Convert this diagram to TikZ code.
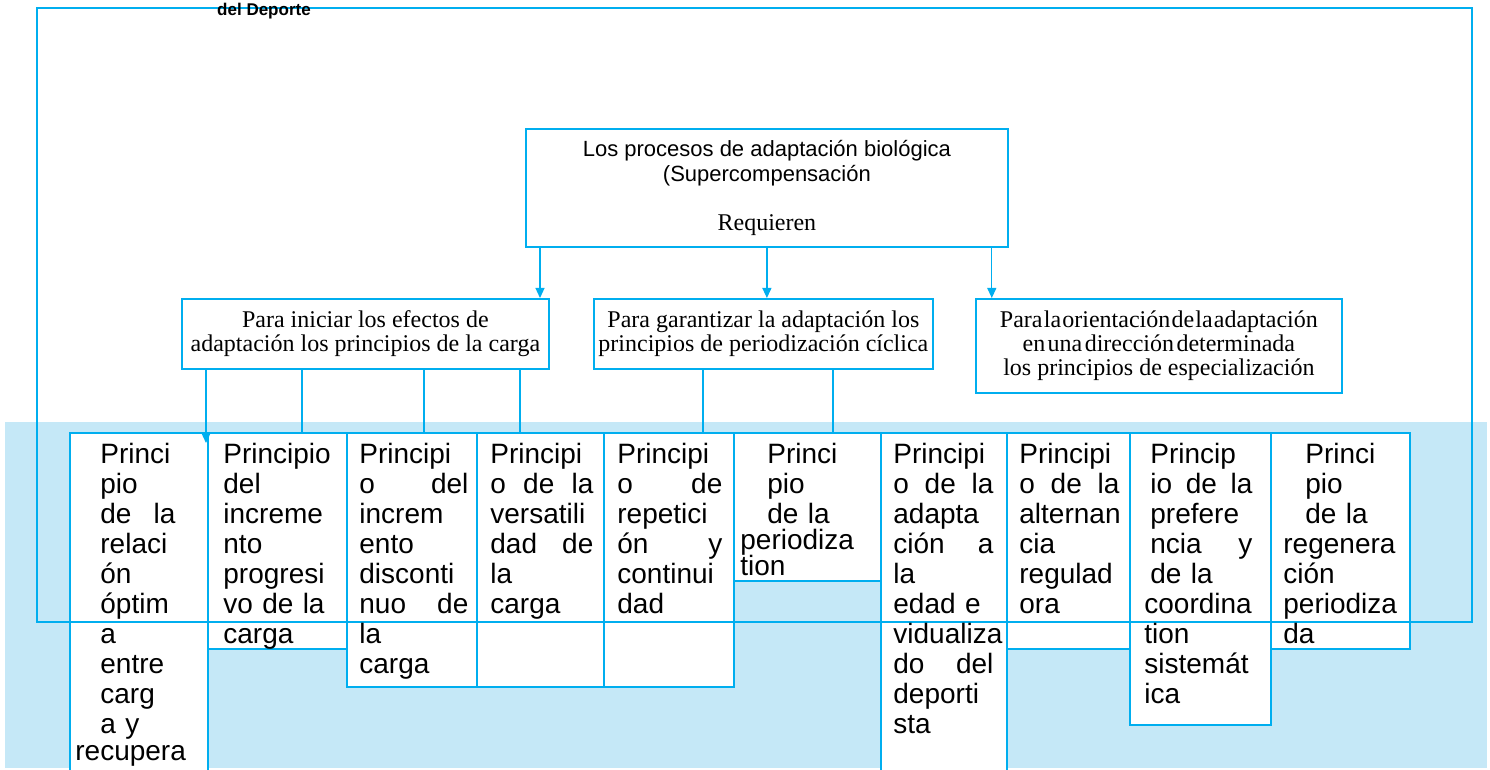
\documentclass[tikz,border=0pt]{standalone}
\usepackage{fontspec}
\setmainfont{Liberation Serif}
\setsansfont{Liberation Sans}
\usetikzlibrary{arrows.meta,positioning,calc}
\definecolor{cyanline}{HTML}{00AEEF}
\definecolor{bandblue}{HTML}{C5E8F7}
\newcommand\nohyph{\hyphenpenalty10000\relax\exhyphenpenalty10000\relax}
\tikzset{
  frame/.style={draw=cyanline,line width=0.6pt},
  headbox/.style={draw=cyanline,line width=0.9pt,fill=white,inner sep=0pt,anchor=north west},
  pbox/.style={draw=cyanline,line width=1.1pt,fill=white,anchor=north west,inner sep=0pt,outer sep=0pt},
  ptext/.style={anchor=north west,inner sep=0pt,align=left,font=\sffamily\fontsize{14}{15}\selectfont\nohyph},
  link/.style={draw=cyanline,line width=0.6pt},
}
\begin{document}
\begin{tikzpicture}[>={Triangle[length=5pt,width=4.5pt]},x=0.5pt,y=-0.5pt]
\clip (0,0) rectangle (1490,770);
\fill[bandblue] (5,422) rectangle (1487,768);
% cuadro superior
\node[headbox,minimum width=241pt,minimum height=59pt,align=center,font=\sffamily\fontsize{11}{12.5}\selectfont] (proc) at (525,128)
  {Los procesos de adaptación biológica\\(Supercompensación\\[12pt]{\rmfamily\fontsize{12}{12}\selectfont Requieren}};
% cuadros intermedios
\node[headbox,minimum width=183.5pt,minimum height=35pt,align=center,font=\fontsize{12}{12}\selectfont] (ini) at (181,298)
  {Para iniciar los efectos de\\adaptación los principios de la carga};
\node[headbox,minimum width=169.5pt,minimum height=35pt,align=center,font=\fontsize{12}{12}\selectfont] (gar) at (593,298)
  {Para garantizar la adaptación los\\principios de periodización cíclica};
\node[headbox,minimum width=183pt,minimum height=47pt,align=center,font=\fontsize{12}{12}\selectfont] (ori) at (975,298)
  {{\spaceskip=0.6pt Para la orientación de la adaptación}\\{\spaceskip=1.2pt en una dirección determinada}\\los principios de especialización};
% principios
\node[pbox,minimum width=69pt,minimum height=173.5pt] (p1) at (70,433) {};
\node[pbox,minimum width=69.5pt,minimum height=108pt] (p2) at (p1.north east) {};
\node[pbox,minimum width=65pt,minimum height=127pt] (p3) at (p2.north east) {};
\node[pbox,minimum width=63.5pt,minimum height=127pt] (p4) at (p3.north east) {};
\node[pbox,minimum width=65pt,minimum height=127pt] (p5) at (p4.north east) {};
\node[pbox,minimum width=73.5pt,minimum height=74pt] (p6) at (p5.north east) {};
\node[pbox,minimum width=63pt,minimum height=173.5pt] (p7) at (p6.north east) {};
\node[pbox,minimum width=61.5pt,minimum height=108pt] (p8) at (p7.north east) {};
\node[pbox,minimum width=70.5pt,minimum height=146pt] (p9) at (p8.north east) {};
\node[pbox,minimum width=69.5pt,minimum height=108pt] (p10) at (p9.north east) {};
% flechas
\coordinate (r1) at ([xshift=7.5pt]proc.south west);
\coordinate (r2) at (proc.south);
\coordinate (r3) at ([xshift=-8.5pt]proc.south east);
\draw[link,->] (r1) -- (r1 |- ini.north);
\draw[link,->] (r2) -- (r2 |- gar.north);
\draw[link,->] (r3) -- (r3 |- ori.north);
\coordinate (i1) at ([xshift=12.5pt]ini.south west);
\coordinate (i2) at ([xshift=60.5pt]ini.south west);
\coordinate (i3) at ([xshift=121.5pt]ini.south west);
\coordinate (i4) at ([xshift=169.5pt]ini.south west);
\coordinate (g1) at ([xshift=55pt]gar.south west);
\coordinate (g2) at ([xshift=120pt]gar.south west);
\draw[link,->,shorten >=-5pt] (i1) -- (i1 |- p1.north);
\draw[link] (i2) -- (i2 |- p2.north);
\draw[link] (i3) -- (i3 |- p3.north);
\draw[link] (i4) -- (i4 |- p4.north);
\draw[link] (g1) -- (g1 |- p5.north);
\draw[link] (g2) -- (g2 |- p6.north);
\draw[frame] (37,8) rectangle (1472,622);
% textos
\node[ptext,text width=37.5pt] (t1) at ([shift={(30,10)}]p1.north west)
  {Princi\\pio\\de\hfill la\\relaci\\ón\\óptim\\a\\entre\\carg\\a y\\[-1.5pt]\hspace*{-12.5pt}recupera};
\node[ptext,text width=57.5pt] (t2) at ([shift={(15,10)}]p2.north west)
  {Principio\\del\\increme\\nto\\progresi\\vo de la\\carga};
\node[ptext,text width=54.5pt] (t3) at ([shift={(12,10)}]p3.north west)
  {Principi\\o\hfill del\\increm\\ento\\disconti\\nuo\hfill de\\la\\carga};
\node[ptext,text width=51.5pt] (t4) at ([shift={(13,10)}]p4.north west)
  {Principi\\o\hfill de\hfill la\\versatili\\dad\hfill de\\la\\carga};
\node[ptext,text width=52.5pt] (t5) at ([shift={(13,10)}]p5.north west)
  {Principi\\o\hfill de\\repetici\\ón\hfill y\\continui\\dad};
\node[ptext,text width=50pt] (t6) at ([shift={(33,10)}]p6.north west)
  {Princi\\pio\\de la\\[-2pt]\hspace*{-13.5pt}periodiza\\[-2pt]\hspace*{-13.5pt}tion};
\node[ptext,text width=50pt] (t7) at ([shift={(12,10)}]p7.north west)
  {Principi\\o\hfill de\hfill la\\adapta\\ción\hfill a\\la\\edad e\\vidualiza\\do\hfill del\\deporti\\sta};
\node[ptext,text width=50pt] (t8) at ([shift={(12,10)}]p8.north west)
  {Principi\\o\hfill de\hfill la\\alternan\\cia\\regulad\\ora};
\node[ptext,text width=51pt] (t9) at ([shift={(20,10)}]p9.north west)
  {Princip\\io\hfill de\hfill la\\prefere\\ncia\hfill y\\de la\\\hspace*{-3pt}coordina\\\hspace*{-3pt}tion\\\hspace*{-3pt}sistemát\\\hspace*{-3pt}ica};
\node[ptext,text width=45pt] (t10) at ([shift={(34,10)}]p10.north west)
  {Princi\\pio\\de la\\\hspace*{-11pt}regenera\\\hspace*{-11pt}ción\\\hspace*{-11pt}periodiza\\\hspace*{-11pt}da};
\node[font=\sffamily\bfseries\fontsize{8.5}{10}\selectfont,inner sep=0pt] (dep) at (264,11) {del Deporte};
\end{tikzpicture}
\end{document}
